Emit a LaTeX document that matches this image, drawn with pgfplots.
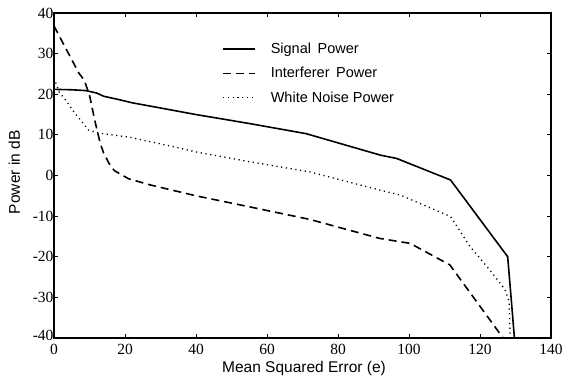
\documentclass[border=0pt]{standalone}
\usepackage{fontspec}
\setmainfont{Liberation Serif}
\newfontfamily\arialf{Liberation Sans}
\usepackage{pgfplots}
\pgfplotsset{compat=1.18}
\begin{document}
\begin{tikzpicture}
\begin{axis}[
  scale only axis,
  width=497pt, height=325pt,
  xmin=0, xmax=140, ymin=-40, ymax=40,
  xtick={0,20,...,140}, ytick={-30,-20,...,40},
  extra y ticks={-40},
  extra y tick style={yticklabel style={yshift=2.5pt}},
  tick align=inside, tick pos=both,
  major tick length=4pt,
  axis line style={line width=1.3pt},
  every tick/.style={line width=1pt, black},
  /pgf/number format/assume math mode=true,
  tick label style={font=\fontsize{15.5}{16}\selectfont},
  xticklabel style={yshift=-3pt},
  yticklabel style={xshift=3pt},
  xlabel={Mean Squared Error (e)},
  ylabel={Power in dB},
  every axis x label/.style={at={(axis description cs:0.503,-0.107)}, anchor=base,
    font=\arialf\fontsize{15.5}{17}\selectfont},
  every axis y label/.style={at={(axis description cs:-0.08,0.51)}, rotate=90, anchor=center,
    font=\arialf\fontsize{15.5}{17}\selectfont},
  legend style={draw=none, fill=none, at={(axis description cs:0.338,0.912)}, anchor=north west,
    font=\arialf\fontsize{14.5}{16}\selectfont, row sep=10.5pt, inner sep=0pt,
    nodes={inner sep=1pt}},
  legend cell align=left,
  legend image code/.code={\draw[#1] (0pt,0pt) -- (32pt,0pt);},
  legend columns=1,
]
\addplot[black, line width=1.6pt] coordinates {
(0,21.2) (5,21.1) (9,20.9) (12,20.3) (14,19.5) (17.7,18.8) (22,17.9) (27,17.1) (40,15.0) (55,12.8) (71,10.3) (92,5.0) (96.5,4.2) (111.7,-1.1) (127.8,-20) (129.7,-40)
};
\addlegendentry{\hspace*{14pt}Signal\hspace{0.45em}Power}
\addplot[black, line width=1.6pt, dash pattern=on 8pt off 5pt] coordinates {
(0,36.8) (3.5,31) (7,25.2) (8.5,23.5) (10,19.8) (11.5,13.5) (13,8) (14,5.5) (15.5,3) (17,1.2) (21,-0.8) (27,-2.3) (40,-5) (55,-7.7) (72,-10.8) (91.8,-15.5) (100.3,-16.7) (111.5,-22) (126.5,-40)
};
\addlegendentry{\hspace*{14pt}Interferer\hspace{0.45em}Power}
\addplot[black, line width=1.3pt, dash pattern=on 1.2pt off 3.6pt] coordinates {
(0,24) (1.5,20.5) (3.6,18.2) (5.9,15.3) (8.3,12.8) (9.7,11.2) (13,10.4) (21.4,9.4) (30,7.8) (40,5.8) (55,3.4) (72,0.9) (91.8,-3.6) (97.5,-4.8) (111.7,-10.1) (117.2,-17.5) (122.8,-23.3) (127,-28) (128.2,-31) (128.5,-40)
};
\addlegendentry{\hspace*{14pt}White Noise Power}
\end{axis}
\pgfresetboundingbox
\useasboundingbox ([shift={(-54pt,-50pt)}]current axis.south west) rectangle ([shift={(13pt,13pt)}]current axis.north east);
\end{tikzpicture}
\end{document}
